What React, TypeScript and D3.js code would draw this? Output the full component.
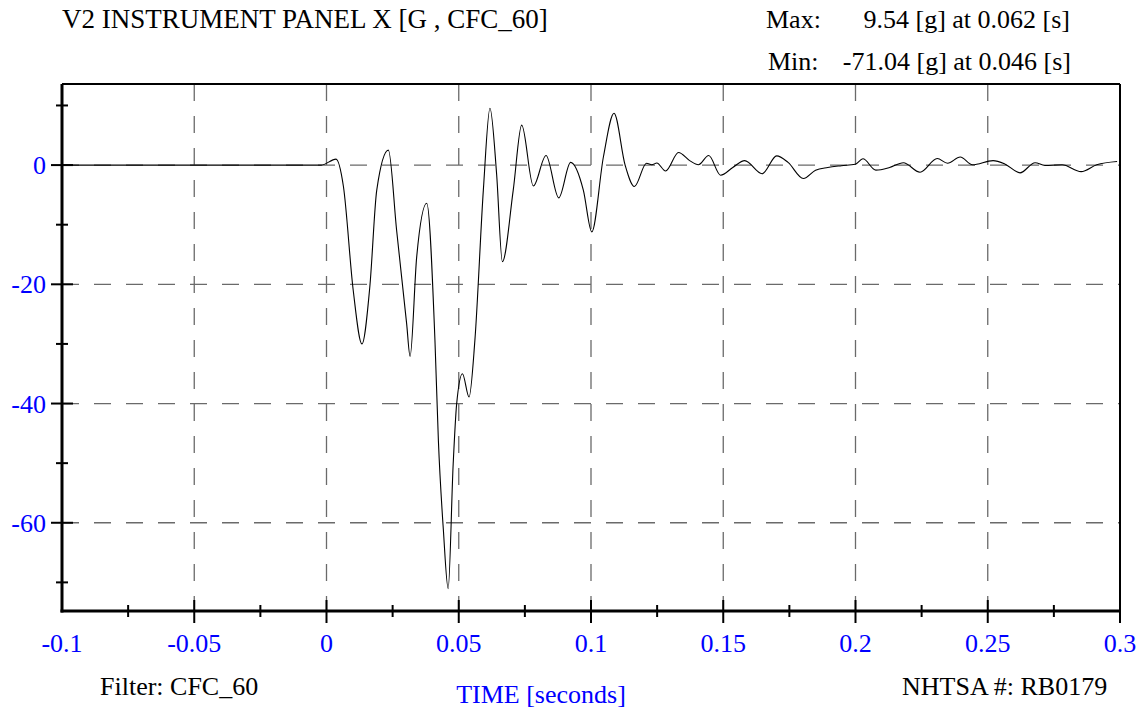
import React from "react";
import * as d3 from "d3";

const TITLE = "V2 INSTRUMENT PANEL X [G , CFC_60]";
const MAX_LABEL = "Max:";
const MAX_VALUE = "9.54 [g] at 0.062 [s]";
const MIN_LABEL = "Min:";
const MIN_VALUE = "-71.04 [g] at 0.046 [s]";
const FILTER_TEXT = "Filter: CFC_60";
const X_TITLE = "TIME [seconds]";
const ID_TEXT = "NHTSA #: RB0179";

const xMajorTicks = [-0.1, -0.05, 0, 0.05, 0.1, 0.15, 0.2, 0.25, 0.3];
const xTickLabels = ["-0.1", "-0.05", "0", "0.05", "0.1", "0.15", "0.2", "0.25", "0.3"];
const xMinorTicks = [-0.075, -0.025, 0.025, 0.075, 0.125, 0.175, 0.225, 0.275];
const yMajorTicks = [0, -20, -40, -60];
const yTickLabels = ["0", "-20", "-40", "-60"];
const yMinorTicks = [10, -10, -30, -50, -70];

// time [s]
const times = [
  -0.1, -0.05, -0.01, -0.002, 0.0036, 0.0064, 0.0101, 0.0134, 0.0164, 0.019, 0.0234,
  0.0265, 0.0303, 0.0316, 0.0341, 0.0379, 0.041, 0.0423, 0.0442, 0.046, 0.0479, 0.0492,
  0.0514, 0.0539, 0.0561, 0.0593, 0.0618, 0.0643, 0.0665, 0.0706, 0.0738, 0.0782, 0.083,
  0.0878, 0.0923, 0.0971, 0.1003, 0.1047, 0.1087, 0.1129, 0.1164, 0.121, 0.123, 0.1249,
  0.1282, 0.1331, 0.1373, 0.1406, 0.1445, 0.149, 0.1536, 0.1581, 0.1647, 0.1702, 0.1745,
  0.1803, 0.1849, 0.1895, 0.1947, 0.1999, 0.2028, 0.2077, 0.2129, 0.2181, 0.2244, 0.2309,
  0.2348, 0.2396, 0.2442, 0.252, 0.2566, 0.2622, 0.2679, 0.2716, 0.2781, 0.2853, 0.2912,
  0.2989,
];
// acceleration [g]
const accel = [
  0, 0, 0, 0, 1.0, -3.6, -21, -30, -20.3, -4.2, 2.5,
  -10.9, -26.6, -32.1, -15.4, -6.4, -29.4, -46.2, -61.3, -71.04, -50.1, -40.1,
  -35.0, -38.9, -29.4, -4.2, 9.54, -1.4, -16.2, -4.2, 6.7, -3.5, 1.6,
  -5.5, 0.45, -4.2, -11.2, 1.4, 8.7, 0, -3.6, 0.3, 0.05, 0.35,
  -1.0, 2.1, 0.75, 0.05, 1.6, -1.7, -0.4, 0.75, -1.45, 1.55, 0.45,
  -2.25, -0.85, -0.4, -0.1, 0.15, 1.05, -0.85, -0.4, 0.4, -1.2, 1.1,
  0.3, 1.35, 0.05, 0.75, 0.15, -1.3, 0.4, -0.05, 0.05, -1.1, 0.05,
  0.6,
];

const W = 1144;
const H = 710;
const L = 62, R = 1120, T = 84, B = 611;
const FONT = "'Liberation Serif', 'Times New Roman', serif";

export default function App() {
  const x = d3.scaleLinear().domain([-0.1, 0.3]).range([L, R]);
  const y = d3.scaleLinear().domain([-74.8, 13.6]).range([B, T]);
  const data = times.map((t, i) => [t, accel[i]] as [number, number]);
  const line = d3
    .line<[number, number]>()
    .x((d) => x(d[0]))
    .y((d) => y(d[1]))
    .curve(d3.curveMonotoneX);

  const gridColor = "#6a6a6a";
  return (
    <svg
      width={W}
      height={H}
      style={{ position: "absolute", left: 0, top: 0, background: "#fff" }}
      fontFamily={FONT}
    >
      <rect x={0} y={0} width={W} height={H} fill="#fff" />
      {/* grid */}
      {xMajorTicks.slice(1, -1).map((t) => (
        <line key={"gx" + t} x1={x(t)} x2={x(t)} y1={T} y2={B} stroke={gridColor} strokeWidth={1.3} strokeDasharray="17 15" />
      ))}
      {yMajorTicks.map((v) => (
        <line key={"gy" + v} x1={L} x2={R} y1={y(v)} y2={y(v)} stroke={gridColor} strokeWidth={1.3} strokeDasharray="17 15" />
      ))}
      {/* curve */}
      <path d={line(data) || ""} fill="none" stroke="#000" strokeWidth={1.1} />
      {/* frame */}
      <line x1={L} x2={R} y1={T} y2={T} stroke="#000" strokeWidth={2} />
      <line x1={R} x2={R} y1={T} y2={B + 12} stroke="#000" strokeWidth={2} />
      <line x1={L} x2={L} y1={T} y2={B + 1.5} stroke="#000" strokeWidth={3} />
      <line x1={L - 1.5} x2={R} y1={B} y2={B} stroke="#000" strokeWidth={3} />
      {/* x ticks */}
      {xMajorTicks.slice(1).map((t) => (
        <line key={"xt" + t} x1={x(t)} x2={x(t)} y1={B - 11} y2={B + 12} stroke="#000" strokeWidth={2} />
      ))}
      {xMinorTicks.map((t) => (
        <line key={"xm" + t} x1={x(t)} x2={x(t)} y1={B - 6} y2={B + 6} stroke="#000" strokeWidth={2} />
      ))}
      {/* y ticks */}
      {yMajorTicks.map((v) => (
        <line key={"yt" + v} x1={L - 11} x2={L + 11} y1={y(v)} y2={y(v)} stroke="#000" strokeWidth={2} />
      ))}
      {yMinorTicks.map((v) => (
        <line key={"ym" + v} x1={L - 6} x2={L + 6} y1={y(v)} y2={y(v)} stroke="#000" strokeWidth={2} />
      ))}
      {/* tick labels */}
      {xMajorTicks.map((t, i) => (
        <text key={"xl" + t} x={x(t)} y={652} textAnchor="middle" fill="#0000ff" fontSize={26}>
          {xTickLabels[i]}
        </text>
      ))}
      {yMajorTicks.map((v, i) => (
        <text key={"yl" + v} x={46} y={y(v) + 9} textAnchor="end" fill="#0000ff" fontSize={26}>
          {yTickLabels[i]}
        </text>
      ))}
      {/* texts */}
      <text x={62} y={28} fontSize={27} fill="#000">{TITLE}</text>
      <text x={766} y={28} fontSize={26} fill="#000">{MAX_LABEL}</text>
      <text x={1070} y={28} fontSize={26} fill="#000" textAnchor="end">{MAX_VALUE}</text>
      <text x={768} y={70} fontSize={26} fill="#000">{MIN_LABEL}</text>
      <text x={1071} y={70} fontSize={26} fill="#000" textAnchor="end">{MIN_VALUE}</text>
      <text x={100} y={695} fontSize={26} fill="#000">{FILTER_TEXT}</text>
      <text x={541} y={703} fontSize={26} fill="#0000ff" textAnchor="middle">{X_TITLE}</text>
      <text x={902} y={695} fontSize={26} fill="#000">{ID_TEXT}</text>
    </svg>
  );
}
